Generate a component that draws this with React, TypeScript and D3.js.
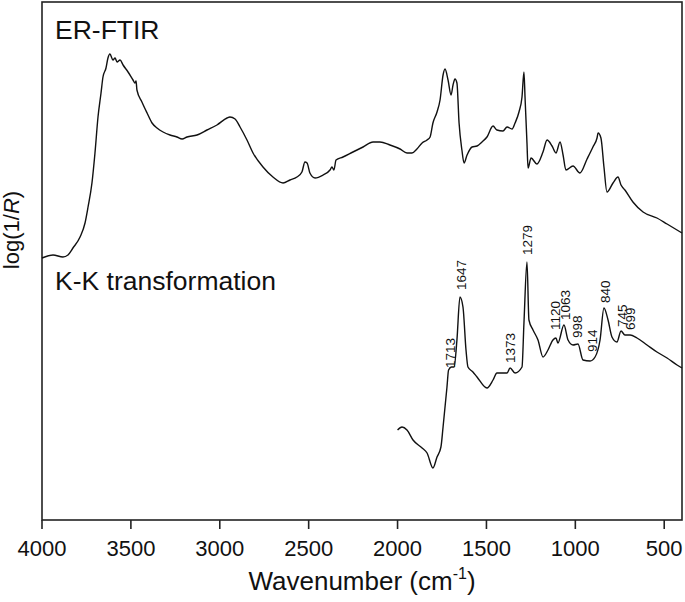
import React from "react";
import * as d3 from "d3";

// ER-FTIR spectrum: wavenumber (cm-1) and log(1/R) (arbitrary units)
const erWavenumber = [4000,3938,3882,3854,3826,3786,3758,3741,3719,3702,3685,3668,3657,3640,3629,3618,3601,3589,3578,3561,3544,3516,3488,3477,3471,3466,3438,3409,3381,3353,3319,3280,3241,3212,3184,3128,3072,3016,2959,2943,2914,2886,2847,2813,2757,2701,2644,2605,2566,2538,2521,2509,2493,2464,2419,2380,2369,2358,2346,2307,2251,2194,2138,2099,2043,1986,1947,1919,1891,1862,1834,1817,1801,1778,1761,1744,1733,1716,1699,1688,1677,1666,1654,1638,1626,1609,1581,1553,1525,1497,1463,1441,1407,1384,1356,1339,1317,1300,1289,1283,1272,1266,1249,1216,1182,1159,1131,1109,1086,1069,1053,1013,974,934,901,878,872,856,839,822,788,760,743,721,676,619,541,484,400];
const erValue = [2.62,2.65,2.63,2.65,2.72,2.83,2.97,3.13,3.37,3.67,4.03,4.27,4.43,4.52,4.62,4.66,4.60,4.62,4.58,4.60,4.55,4.48,4.40,4.37,4.39,4.30,4.18,4.07,3.97,3.92,3.88,3.85,3.83,3.81,3.83,3.85,3.90,3.95,4.02,4.03,4.01,3.93,3.80,3.67,3.53,3.43,3.37,3.40,3.43,3.48,3.58,3.57,3.47,3.42,3.45,3.50,3.53,3.50,3.60,3.63,3.68,3.73,3.78,3.78,3.75,3.71,3.67,3.67,3.71,3.77,3.80,3.83,3.97,4.08,4.20,4.45,4.51,4.40,4.25,4.35,4.41,4.37,3.97,3.70,3.57,3.65,3.73,3.74,3.78,3.83,3.94,3.90,3.89,3.93,3.91,3.97,4.08,4.23,4.48,4.23,3.77,3.52,3.62,3.56,3.68,3.80,3.74,3.67,3.78,3.65,3.50,3.54,3.47,3.61,3.73,3.82,3.87,3.82,3.53,3.28,3.37,3.43,3.35,3.30,3.18,3.08,3.02,2.96,2.87];

// K-K transformed spectrum
const kkWavenumber = [2000,1975,1947,1913,1862,1834,1801,1778,1756,1744,1722,1713,1697,1682,1666,1649,1632,1615,1604,1576,1553,1497,1463,1441,1384,1367,1339,1300,1289,1272,1261,1238,1210,1182,1154,1126,1109,1098,1064,1041,1013,985,957,917,889,861,839,816,794,766,743,721,692,653,597,541,484,428,400];
const kkValue = [0.90,0.93,0.90,0.80,0.72,0.67,0.52,0.63,0.73,0.93,1.33,1.50,1.53,1.53,1.80,2.23,2.13,1.70,1.53,1.48,1.43,1.32,1.40,1.47,1.47,1.52,1.47,1.53,1.97,2.58,2.00,1.90,1.80,1.63,1.70,1.80,1.82,1.77,1.95,1.80,1.75,1.76,1.60,1.59,1.63,1.80,2.12,2.00,1.83,1.78,1.89,1.85,1.85,1.82,1.75,1.68,1.62,1.55,1.52];

// Peak annotations: label, wavenumber, value at which the label starts
const peakLabels = ["1713","1647","1373","1279","1120","1063","998","914","840","745","699"];
const peakWavenumber = [1713,1647,1373,1279,1120,1063,998,914,840,745,699];
const peakLabelBase = [1.52,2.30,1.57,2.65,1.90,2.00,1.82,1.68,2.17,1.93,1.90];

const xTicks = [4000,3500,3000,2500,2000,1500,1000,500];

const W = 685, H = 602;
const left = 42, right = 682, top = 2, bottom = 520;
const FONT = "'Liberation Sans', Arial, sans-serif";

export default function App() {
  const x = d3.scaleLinear().domain([4000, 400]).range([left, right]);
  const y = d3.scaleLinear().domain([0, 5.18]).range([bottom, top]);
  const line = d3.line<[number, number]>().x(d => x(d[0])).y(d => y(d[1])).curve(d3.curveMonotoneX);
  const er = line(erWavenumber.map((w, i) => [w, erValue[i]]) as [number, number][]) || "";
  const kk = line(kkWavenumber.map((w, i) => [w, kkValue[i]]) as [number, number][]) || "";

  return (
    <svg width={W} height={H} style={{ position: "absolute", left: 0, top: 0, background: "#fff" }} fontFamily={FONT}>
      <rect x={left} y={top} width={right - left} height={bottom - top} fill="none" stroke="#222" strokeWidth={1.6} />
      <path d={er} fill="none" stroke="#111" strokeWidth={1.4} strokeLinejoin="round" />
      <path d={kk} fill="none" stroke="#111" strokeWidth={1.4} strokeLinejoin="round" />
      {xTicks.map(t => (
        <g key={t} transform={`translate(${x(t)},0)`}>
          <line y1={bottom} y2={bottom + 9} stroke="#222" strokeWidth={1.6} />
          <text y={556} textAnchor="middle" fontSize={22} fill="#111">{t}</text>
        </g>
      ))}
      <text x={(left + right) / 2} y={590} textAnchor="middle" fontSize={26} fill="#111">
        Wavenumber (cm<tspan dy={-11} fontSize={16}>-1</tspan><tspan dy={11}>)</tspan>
      </text>
      <text transform={`translate(19,230) rotate(-90)`} textAnchor="middle" fontSize={22} fill="#111">
        log(1/<tspan fontStyle="italic">R</tspan>)
      </text>
      <text x={55} y={39} fontSize={26.5} fill="#111">ER-FTIR</text>
      <text x={55} y={290} fontSize={26.5} fill="#111">K-K transformation</text>
      {peakLabels.map((lab, i) => (
        <text key={lab} transform={`translate(${x(peakWavenumber[i]) + 6},${y(peakLabelBase[i])}) rotate(-90)`} fontSize={13.5} fill="#111">{lab}</text>
      ))}
    </svg>
  );
}
